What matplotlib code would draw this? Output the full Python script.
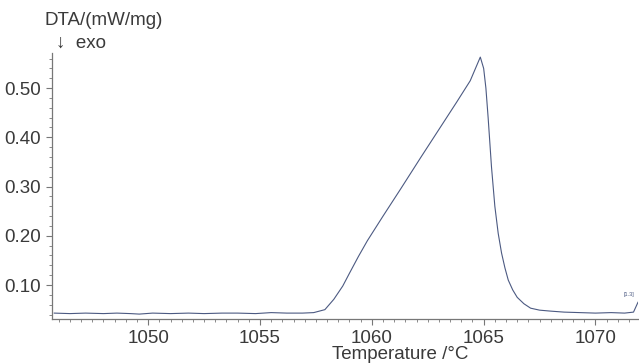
import matplotlib as mpl
mpl.use('agg')
import matplotlib.pyplot as plt
from matplotlib.ticker import MultipleLocator

plt.rcParams['font.family'] = ['Liberation Sans', 'DejaVu Sans']

# DTA curve
temp = [1045.8, 1046.5, 1047.2, 1048.0, 1048.6, 1049.2, 1049.6, 1050.2, 1051.0, 1051.8,
        1052.5, 1053.3, 1054.0, 1054.8, 1055.5, 1056.2, 1056.9, 1057.4, 1057.9, 1058.3,
        1058.7, 1059.0, 1059.4, 1059.8, 1060.5, 1061.3, 1062.2, 1063.0, 1063.8, 1064.4,
        1064.85, 1065.0, 1065.1, 1065.2, 1065.35, 1065.5, 1065.65, 1065.8, 1065.95, 1066.1,
        1066.3, 1066.5, 1066.8, 1067.1, 1067.5, 1068.0, 1068.6, 1069.3, 1070.0, 1070.7,
        1071.3, 1071.7, 1071.9]
dta = [0.043, 0.042, 0.043, 0.042, 0.043, 0.042, 0.041, 0.043, 0.042, 0.043,
       0.042, 0.043, 0.043, 0.042, 0.044, 0.043, 0.043, 0.044, 0.050, 0.071,
       0.098, 0.124, 0.158, 0.190, 0.240, 0.296, 0.360, 0.416, 0.472, 0.515,
       0.563, 0.540, 0.500, 0.440, 0.340, 0.260, 0.205, 0.165, 0.135, 0.110,
       0.090, 0.075, 0.062, 0.053, 0.049, 0.047, 0.045, 0.044, 0.043, 0.044,
       0.043, 0.045, 0.065]

fig = plt.figure(figsize=(6.39, 3.64), dpi=100)
ax = fig.add_axes([0.0814, 0.1236, 0.917, 0.7304])

ax.plot(temp, dta, color='#4c5a82', linewidth=0.8)

ax.set_xlim(1045.7, 1071.9)
ax.set_ylim(0.031, 0.571)
ax.xaxis.set_major_locator(MultipleLocator(5))
ax.xaxis.set_minor_locator(MultipleLocator(0.5))
ax.yaxis.set_major_locator(MultipleLocator(0.1))
ax.yaxis.set_minor_locator(MultipleLocator(0.02))
ax.yaxis.set_major_formatter(mpl.ticker.FormatStrFormatter('%.2f'))

for s in ['top', 'right']:
    ax.spines[s].set_visible(False)
for s in ['left', 'bottom']:
    ax.spines[s].set_color('#777777')
    ax.spines[s].set_linewidth(0.9)

ax.tick_params(which='major', length=4, color='#777777', labelsize=13.5, labelcolor='#3a3a3a', pad=4)
ax.tick_params(which='minor', length=2.5, color='#777777')

ax.set_xlabel('Temperature /°C', fontsize=13.5, color='#3a3a3a')
ax.xaxis.label.set_verticalalignment('center')
ax.xaxis.set_label_coords(0.595, -0.135)

fig.text(0.07, 0.945, 'DTA/(mW/mg)', fontsize=13.5, color='#3a3a3a', va='center')
fig.text(0.088, 0.882, '↓  exo', fontsize=13.5, color='#3a3a3a', va='center')
ax.text(1071.5, 0.075, '[1.3]', fontsize=4, color='#4c5a82', ha='center', va='bottom')

fig.savefig('out.png', dpi=100)
